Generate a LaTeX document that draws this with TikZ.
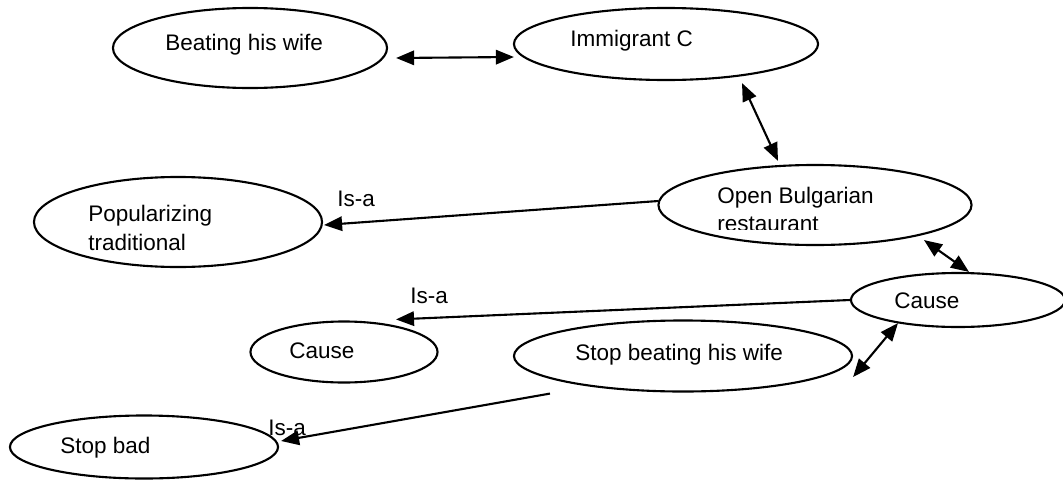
\documentclass[tikz,border=0pt]{standalone}
\usepackage{fontspec}
\setmainfont{Liberation Sans}
\usetikzlibrary{arrows.meta}
\usetikzlibrary{shapes.geometric}

\def\tip{Triangle[length=0.45cm,width=0.36cm]}
\tikzset{
  bubble/.style 2 args={draw, ellipse, line width=1.5pt, inner sep=0pt,
    minimum width=#1, minimum height=#2},
  words/.style={anchor=base west, inner sep=0pt, font=\fontsize{16}{19}\selectfont},
  isa/.style={line width=1.5pt, -{\tip}},
  both/.style={line width=1.5pt, {\tip}-{\tip}},
}

\begin{document}
\begin{tikzpicture}[x=0.025cm, y=-0.025cm]
  \useasboundingbox (0,0) rectangle (1063,480);

  % ellipses
  \node[bubble={6.85cm}{2cm}] (beat) at (250,48) {};
  \node[bubble={7.6cm}{1.8cm}] (imm) at (666,44) {};
  \node[bubble={7.825cm}{2cm}] (bulg) at (815,205) {};
  \node[bubble={7.2cm}{2.25cm}] (pop) at (178,222) {};
  \node[bubble={5.35cm}{1.35cm}] (causeR) at (958,300) {};
  \node[bubble={4.675cm}{1.525cm}] (causeL) at (344,352) {};
  \node[bubble={8.45cm}{1.775cm}] (stop) at (683,356) {};
  \node[bubble={6.7cm}{1.575cm}] (stopbad) at (144,447) {};

  % texts
  \node[words] (beat-t) at (165,50) {Beating his wife};
  \node[words] (imm-t) at (570,46) {Immigrant C};
  \node[words] (bulg-t) at (717,203) {Open Bulgarian};
  \begin{scope}
    \clip (700,210) rectangle (900,229);
    \node[words] (bulg-t2) at (717,231) {restaurant};
  \end{scope}
  \node[words] (pop-t) at (88,221) {Popularizing};
  \node[words] (pop-t2) at (88,250) {traditional};
  \node[words] (causeR-t) at (894,308) {Cause};
  \node[words] (causeL-t) at (289,358) {Cause};
  \node[words] (stop-t) at (575,360) {Stop beating his wife};
  \node[words] (stopbad-t) at (60,453) {Stop bad};

  % links
  \draw[both] ([shift={(8,10)}]beat.east) -- ([shift={(1,13)}]imm.west);
  \draw[both] ([shift={(76,2)}]imm.south) -- ([shift={(-37,-3)}]bulg.north);
  \draw[both] ([shift={(109,-6)}]bulg.south) -- ([shift={(11,0)}]causeR.north);
  \draw[both] ([shift={(0,21)}]stop.east) -- ([shift={(-60,-5)}]causeR.south);

  \draw[isa] ([shift={(1,-4)}]bulg.west) -- ([shift={(1,3)}]pop.east);
  \node[words] (isa1) at (337,206) {Is-a};
  \draw[isa] (causeR.west) -- ([shift={(52,-1)}]causeL.north);
  \node[words] (isa2) at (410,303) {Is-a};
  \draw[isa] ([shift={(-133,1)}]stop.south) -- ([shift={(2,-6)}]stopbad.east);
  \node[words] (isa3) at (268,435) {Is-a};
\end{tikzpicture}
\end{document}
